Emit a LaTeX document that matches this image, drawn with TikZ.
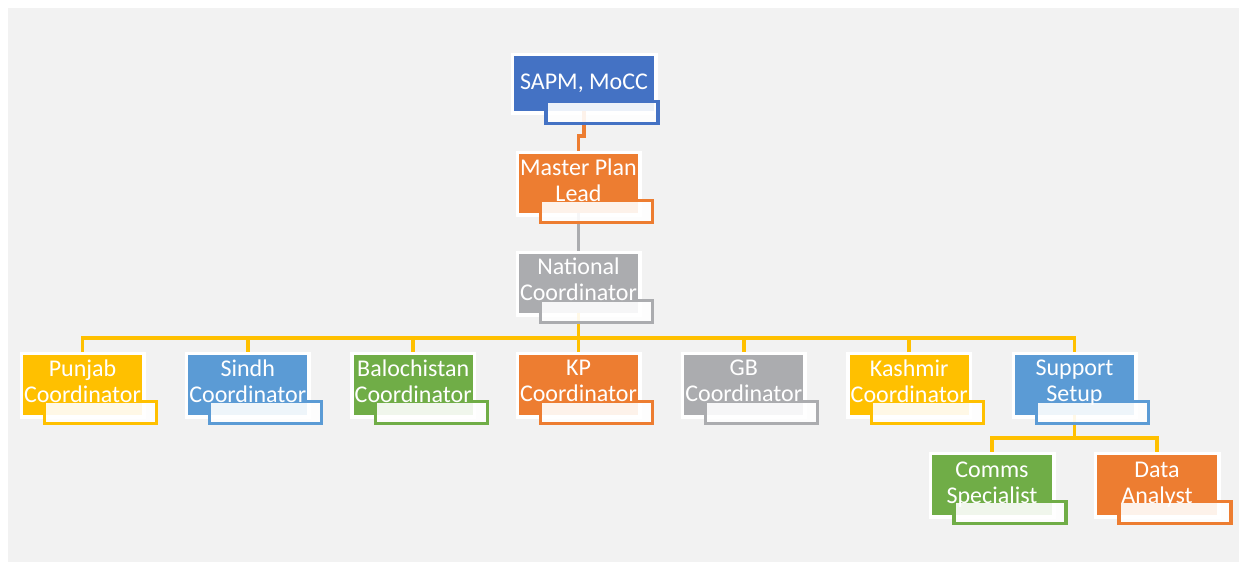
\documentclass[tikz,border=0pt]{standalone}
\usepackage{fontspec}
\setmainfont{Carlito}
\usetikzlibrary{calc}
\definecolor{bggray}{HTML}{F2F2F2}
\definecolor{cblue}{HTML}{4472C4}
\definecolor{corange}{HTML}{ED7D31}
\definecolor{cgray}{HTML}{ABACAF}
\definecolor{cyellow}{HTML}{FFC000}
\definecolor{cltblue}{HTML}{5B9BD5}
\definecolor{cgreen}{HTML}{70AD47}
\tikzset{
  unitframe/.style={rectangle, draw=none, fill=white, inner sep=0pt, outer sep=0pt},
  unitfill/.style={rectangle, draw=none, inner sep=0pt, outer sep=0pt},
  titlebox/.style={line width=2.5pt, fill=white, fill opacity=0.9},
  unittext/.style={text=white, align=center, inner sep=0pt,
    font=\fontsize{18}{19.5}\selectfont,
    execute at begin node=\strut, execute at end node=\strut},
  conn/.style={line width=2.8pt},
}
% name, cx, top, w, h, colour
\newcommand\orgunit[6]{%
  \node[unitframe, minimum width={(#4+7)*0.75pt}, minimum height={(#5+7)*0.75pt}] (#1f) at (#2,#3+#5/2) {};
  \node[unitfill, fill=#6, minimum width={#4*0.75pt}, minimum height={#5*0.75pt}] (#1) at (#2,#3+#5/2) {};
}
% name, cx, top, colour, text, text centre offset
\newcommand\orgtitle[6]{%
  \draw[titlebox, draw=#4] (#2-38,#3+46.5) rectangle (#2+74,#3+68.5);
  \node[unittext] (#1t) at (#2,#3+#6) {#5};
}
\begin{document}
\begin{tikzpicture}[x=0.75pt, y=-0.75pt]
\useasboundingbox (0,0) rectangle (1239,562);
\fill[bggray] (8,8) rectangle (1239,562);
% boxes
\orgunit{sapm}{584}{56}{140}{55}{cblue}
\orgunit{mpl}{578.5}{154}{119}{59}{corange}
\orgunit{nat}{578.5}{254}{119}{59}{cgray}
\orgunit{pun}{82.5}{355}{119}{60}{cyellow}
\orgunit{sin}{247.8}{355}{119}{60}{cltblue}
\orgunit{bal}{413.2}{355}{119}{60}{cgreen}
\orgunit{kp}{578.5}{355}{119}{60}{corange}
\orgunit{gb}{743.8}{355}{119}{60}{cgray}
\orgunit{kas}{909.2}{355}{119}{60}{cyellow}
\orgunit{sup}{1074.5}{355}{119}{60}{cltblue}
\orgunit{com}{992}{455}{120}{60}{cgreen}
\orgunit{dat}{1157}{455}{120}{60}{corange}
% connectors
\draw[conn, draw=corange] (sapm.south) -- ++(0,25) -| (mplf.north);
\draw[conn, draw=cgray] (mpl.south) -- (natf.north);
\foreach \c in {pun,sin,bal,kp,gb,kas,sup}
  \draw[conn, draw=cyellow] (nat.south) -- ++(0,25) -| (\c f.north);
\foreach \c in {com,dat}
  \draw[conn, draw=cyellow] (sup.south) -- ++(0,23) -| (\c f.north);
% title boxes and texts
\orgtitle{sapm}{584}{55}{cblue}{SAPM, MoCC}{29}
\orgtitle{mpl}{578.5}{154}{corange}{Master Plan\\Lead}{30}
\orgtitle{nat}{578.5}{254}{cgray}{National\\Coordinator}{29.5}
\orgtitle{pun}{82.5}{355}{cyellow}{Punjab\\Coordinator}{30}
\orgtitle{sin}{247.8}{355}{cltblue}{Sindh\\Coordinator}{30}
\orgtitle{bal}{413.2}{355}{cgreen}{Balochistan\\Coordinator}{30}
\orgtitle{kp}{578.5}{355}{corange}{KP\\Coordinator}{30}
\orgtitle{gb}{743.8}{355}{cgray}{GB\\Coordinator}{30}
\orgtitle{kas}{909.2}{355}{cyellow}{Kashmir\\Coordinator}{30}
\orgtitle{sup}{1074.5}{355}{cltblue}{Support\\Setup}{30}
\orgtitle{com}{992}{455}{cgreen}{Comms\\Specialist}{32}
\orgtitle{dat}{1157}{455}{corange}{Data\\Analyst}{32}
\end{tikzpicture}
\end{document}
